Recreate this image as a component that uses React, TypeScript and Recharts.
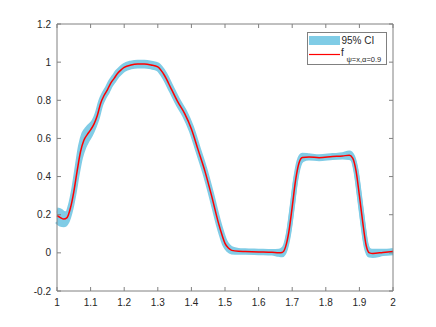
import { ComposedChart, Area, Line, XAxis, YAxis } from "recharts";

const xs = [
  1.0, 1.01, 1.02, 1.03, 1.04, 1.05, 1.06, 1.07, 1.08, 1.09, 1.1, 1.11, 1.12, 1.13, 1.14, 1.15, 1.16, 1.17, 1.18, 1.19,
  1.2, 1.22, 1.24, 1.26, 1.28, 1.3, 1.32, 1.34, 1.36, 1.38, 1.4, 1.42, 1.44, 1.46, 1.48, 1.49, 1.5, 1.51, 1.52, 1.54,
  1.56, 1.6, 1.64, 1.66, 1.67, 1.68, 1.69, 1.7, 1.71, 1.72, 1.73, 1.75, 1.78, 1.82, 1.85, 1.87, 1.88, 1.89, 1.9, 1.91,
  1.92, 1.93, 1.94, 1.97, 2.0,
];

const fit = [
  0.195, 0.185, 0.177, 0.185, 0.235, 0.32, 0.43, 0.53, 0.59, 0.62, 0.645, 0.675, 0.72, 0.785, 0.825, 0.855, 0.89, 0.915, 0.94, 0.958,
  0.972, 0.985, 0.99, 0.99, 0.985, 0.975, 0.93, 0.86, 0.79, 0.73, 0.65, 0.54, 0.43, 0.3, 0.16, 0.1, 0.05, 0.025, 0.013, 0.008,
  0.007, 0.005, 0.003, 0.0, 0.002, 0.03, 0.11, 0.24, 0.38, 0.47, 0.5, 0.503, 0.499, 0.505, 0.508, 0.512, 0.497, 0.43, 0.3, 0.16,
  0.04, 0.0, -0.003, 0.002, 0.007,
];

const lower = [
  0.165, 0.15, 0.147, 0.165, 0.22, 0.305, 0.41, 0.5, 0.555, 0.59, 0.62, 0.66, 0.708, 0.775, 0.815, 0.845, 0.88, 0.905, 0.93, 0.948,
  0.962, 0.975, 0.98, 0.98, 0.975, 0.965, 0.92, 0.85, 0.78, 0.72, 0.64, 0.53, 0.42, 0.29, 0.15, 0.09, 0.04, 0.015, 0.005, 0.003,
  0.003, 0.001, -0.001, -0.008, -0.01, 0.022, 0.105, 0.235, 0.375, 0.46, 0.488, 0.497, 0.494, 0.5, 0.502, 0.5, 0.49, 0.425, 0.295, 0.155,
  0.034, -0.012, -0.014, -0.004, 0.001,
];

const upper = [
  0.225, 0.22, 0.207, 0.205, 0.25, 0.335, 0.45, 0.56, 0.625, 0.65, 0.67, 0.69, 0.732, 0.795, 0.835, 0.865, 0.9, 0.925, 0.95, 0.968,
  0.982, 0.995, 1.0, 1.0, 0.995, 0.985, 0.94, 0.87, 0.8, 0.74, 0.66, 0.55, 0.44, 0.31, 0.17, 0.11, 0.06, 0.035, 0.021, 0.013,
  0.011, 0.009, 0.007, 0.008, 0.014, 0.038, 0.115, 0.245, 0.385, 0.48, 0.512, 0.509, 0.504, 0.51, 0.514, 0.524, 0.504, 0.435, 0.305, 0.165,
  0.046, 0.012, 0.008, 0.008, 0.013,
];

const xTicks = [1, 1.1, 1.2, 1.3, 1.4, 1.5, 1.6, 1.7, 1.8, 1.9, 2];
const yTicks = [-0.2, 0, 0.2, 0.4, 0.6, 0.8, 1, 1.2];

const data = xs.map((x, i) => ({ x, fit: fit[i], ci: [lower[i], upper[i]] }));

const AXIS = "#808080";
const TEXT = "#262626";
const BAND = "#80cce6";

const fmt = (v: number) => String(Math.round(v * 10) / 10);

function BottomTick({ x, y, payload }: any) {
  return (
    <g>
      <line x1={x} y1={y} x2={x} y2={y - 4} stroke={AXIS} />
      <text x={x} y={y + 15} textAnchor="middle" fontSize={10} fill={TEXT}>
        {fmt(payload.value)}
      </text>
    </g>
  );
}

function TopTick({ x, y }: any) {
  return <line x1={x} y1={y} x2={x} y2={y + 4} stroke={AXIS} />;
}

function LeftTick({ x, y, payload }: any) {
  return (
    <g>
      <line x1={x} y1={y} x2={x + 4} y2={y} stroke={AXIS} />
      <text x={x - 6} y={y + 3.5} textAnchor="end" fontSize={10} fill={TEXT}>
        {fmt(payload.value)}
      </text>
    </g>
  );
}

function RightTick({ x, y }: any) {
  return <line x1={x} y1={y} x2={x - 4} y2={y} stroke={AXIS} />;
}

export default function App() {
  return (
    <div
      style={{
        position: "absolute",
        left: 0,
        top: 0,
        width: 436,
        height: 327,
        background: "#fff",
        fontFamily: "'Liberation Sans', Arial, sans-serif",
      }}
    >
      <ComposedChart width={436} height={327} data={data} margin={{ top: 23, right: 42, bottom: 16, left: 17 }}>
        <XAxis
          xAxisId="bottom"
          dataKey="x"
          type="number"
          domain={[1, 2]}
          ticks={xTicks}
          height={20}
          tickSize={0}
          tickMargin={0}
          stroke={AXIS}
          tick={<BottomTick />}
          interval={0}
        />
        <XAxis
          xAxisId="top"
          dataKey="x"
          type="number"
          orientation="top"
          domain={[1, 2]}
          ticks={xTicks}
          height={1}
          tickSize={0}
          tickMargin={0}
          stroke={AXIS}
          tick={<TopTick />}
          interval={0}
        />
        <YAxis
          yAxisId="left"
          type="number"
          domain={[-0.2, 1.2]}
          ticks={yTicks}
          width={40}
          tickSize={0}
          tickMargin={0}
          stroke={AXIS}
          tick={<LeftTick />}
          interval={0}
        />
        <YAxis
          yAxisId="right"
          orientation="right"
          type="number"
          domain={[-0.2, 1.2]}
          ticks={yTicks}
          width={1}
          tickSize={0}
          tickMargin={0}
          stroke={AXIS}
          tick={<RightTick />}
          interval={0}
        />
        <Area
          xAxisId="bottom"
          yAxisId="left"
          dataKey="ci"
          type="monotone"
          fill={BAND}
          fillOpacity={1}
          stroke={BAND}
          strokeWidth={5}
          strokeLinejoin="round"
          isAnimationActive={false}
        />
        <Line
          xAxisId="top"
          yAxisId="right"
          dataKey="fit"
          type="monotone"
          stroke="#ff0000"
          strokeWidth={1.5}
          dot={false}
          isAnimationActive={false}
        />
      </ComposedChart>
      <svg width={436} height={327} style={{ position: "absolute", left: 0, top: 0, pointerEvents: "none" }}>
        <rect x={307.5} y={32.5} width={79} height={32} fill="#fff" stroke={AXIS} />
        <rect x={309} y={36} width={31} height={9} fill={BAND} />
        <text x={341.5} y={44.3} fontSize={10} fill={TEXT}>
          95% CI
        </text>
        <line x1={309} y1={54.5} x2={340} y2={54.5} stroke="#ff0000" strokeWidth={1.2} />
        <text x={341} y={56} fontSize={10} fill={TEXT}>
          f
        </text>
        <text x={346.5} y={62.3} fontSize={7.5} fill={TEXT}>
          ψ=x,α=0.9
        </text>
      </svg>
    </div>
  );
}
